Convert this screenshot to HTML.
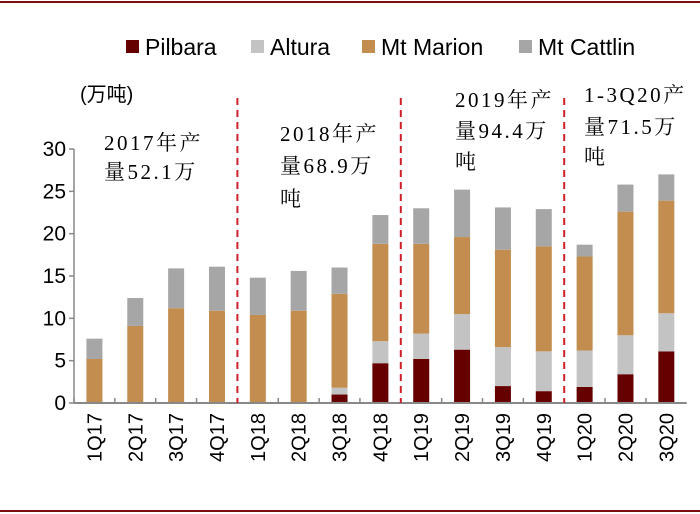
<!DOCTYPE html>
<html><head><meta charset="utf-8"><style>
body{margin:0;background:#fff;}
svg{display:block;font-family:"Liberation Sans","Noto Sans CJK SC",sans-serif;}
</style></head><body>
<svg id="chart" width="700" height="514" viewBox="0 0 700 514">
<line x1="0" y1="2" x2="700" y2="2" stroke="#7a1010" stroke-width="2"/>
<line x1="0" y1="511" x2="700" y2="511" stroke="#7a1010" stroke-width="2"/>
<g font-size="23">
<g><rect x="126" y="40" width="13" height="13" fill="#660000"/><text x="145" y="55">Pilbara</text></g>
<g><rect x="251" y="40" width="13" height="13" fill="#c3c3c3"/><text x="270" y="55">Altura</text></g>
<g><rect x="362" y="40" width="13" height="13" fill="#c28d4e"/><text x="381" y="55">Mt Marion</text></g>
<g><rect x="519" y="40" width="13" height="13" fill="#a6a6a6"/><text x="538" y="55">Mt Cattlin</text></g>
</g>
<text x="80" y="101" font-size="20">(万吨)</text>
<g font-family="Liberation Serif,Noto Serif CJK SC,serif" font-size="21" letter-spacing="2.5">
<text x="104" y="150">2017年产</text><text x="104" y="179">量52.1万</text>
<text x="280" y="141">2018年产</text><text x="280" y="173">量68.9万</text><text x="280" y="206">吨</text>
<text x="455" y="107">2019年产</text><text x="455" y="138">量94.4万</text><text x="455" y="169">吨</text>
<text x="584" y="102">1-3Q20产</text><text x="584" y="134">量71.5万</text><text x="584" y="164">吨</text>
</g>
<g id="plot"></g>
</svg>
<script>
const categories=["1Q17","2Q17","3Q17","4Q17","1Q18","2Q18","3Q18","4Q18","1Q19","2Q19","3Q19","4Q19","1Q20","2Q20","3Q20"];
const pilbara=[0,0,0,0,0,0,1.0,4.7,5.2,6.3,2.0,1.4,1.9,3.4,6.1];
const altura=[0,0,0,0,0,0,0.8,2.6,3.0,4.2,4.6,4.7,4.3,4.6,4.5];
const mtMarion=[5.2,9.1,11.2,10.9,10.4,10.9,11.1,11.5,10.6,9.1,11.5,12.4,11.1,14.6,13.3];
const mtCattlin=[2.4,3.3,4.7,5.2,4.4,4.7,3.1,3.4,4.2,5.6,5.0,4.4,1.4,3.2,3.1];
const yTicks=[0,5,10,15,20,25,30];
const dividerAfter=[3,7,11];
const NS="http://www.w3.org/2000/svg";
const g=document.getElementById('plot');
const x0=74,step=40.85,y0=403,yScale=254/30;
const xc=i=>x0+step*(i+0.5);
const y=v=>y0-v*yScale;
function mk(t,a){const e=document.createElementNS(NS,t);for(const k in a)e.setAttribute(k,a[k]);g.appendChild(e);return e;}
yTicks.forEach(v=>{
 const t=mk('text',{x:66,y:y(v)+7,'font-size':21,'text-anchor':'end'});t.textContent=v;
 
 
 const l=mk('line',{x1:69,x2:74,y1:y(v),y2:y(v),stroke:'#888','stroke-width':1.5});
 
 
});
const ya=mk('line',{x1:74,x2:74,y1:y(30),y2:y0,stroke:'#888','stroke-width':1.5});


const series=[[pilbara,'#660000','pilbara'],[altura,'#c3c3c3','altura'],[mtMarion,'#c28d4e','mt-marion'],[mtCattlin,'#a6a6a6','mt-cattlin']];
categories.forEach((c,i)=>{
 let base=0;
 series.forEach(([arr,col,nm])=>{
  const v=arr[i];
  if(v>0){const r=mk('rect',{x:xc(i)-8,y:y(base+v),width:16,height:v*yScale,fill:col});
   
   }
  base+=v;
 });
 const t=mk('text',{transform:`translate(${xc(i)+7},${y0+10}) rotate(-90)`,'font-size':20,'text-anchor':'end'});
 t.textContent=c;
 
 
 const tk=mk('line',{x1:x0+step*i,x2:x0+step*i,y1:y0,y2:y0-5,stroke:'#888','stroke-width':1.5});
 
 
});
const xa=mk('line',{x1:74,x2:x0+step*categories.length,y1:y0,y2:y0,stroke:'#888','stroke-width':2});


dividerAfter.forEach(i=>{
 const xx=x0+step*(i+1);
 const d=mk('line',{x1:xx,x2:xx,y1:98,y2:y0,stroke:'#d0202a','stroke-width':2,'stroke-dasharray':'7,5'});
 
 
});
</script>
</body></html>
